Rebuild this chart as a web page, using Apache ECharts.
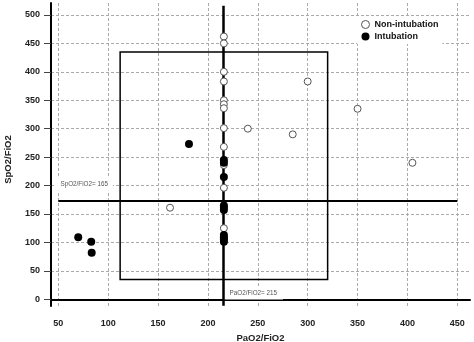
<!DOCTYPE html>
<html>
<head>
<meta charset="utf-8">
<script src="https://cdn.jsdelivr.net/npm/echarts@6/dist/echarts.min.js"></script>
<style>html,body{margin:0;padding:0;background:#fff}#c{width:474px;height:342px}</style>
</head>
<body>
<div id="c"></div>
<script>
var xTicks = [50, 100, 150, 200, 250, 300, 350, 400, 450];
var yTicks = [0, 50, 100, 150, 200, 250, 300, 350, 400, 450, 500];
var nonIntubation = [
  [216, 462], [216, 450], [216, 400], [216, 383], [216, 350], [216, 343], [216, 336],
  [216, 301], [240, 300], [285, 290], [300, 383], [350, 335], [405, 240], [216, 268],
  [216, 236], [216, 196], [162, 161], [216, 125]
];
var intubation = [
  [70, 109], [83, 101], [83.5, 82], [181, 273], [216, 245], [216, 240], [216, 215],
  [216, 165], [216, 161], [216, 157], [216, 113], [216, 109], [216, 105], [216, 101]
];
var boxX = [112, 320];
var boxY = [35, 435];
var paoCut = 215;
var spoLineY = 173;
var spoLineX = [50, 450];
var paoLineY = [-11.5, 516];
var spoLabel = 'SpO2/FiO2= 165';
var paoLabel = 'PaO2/FiO2= 215';

var chart = echarts.init(document.getElementById('c'));
var font = 'Liberation Sans, Arial, sans-serif';
chart.setOption({
  animation: false,
  backgroundColor: '#fff',
  textStyle: {fontFamily: font},
  grid: {left: 51, right: 4, top: 3, bottom: 36, outerBoundsMode: 'none', containLabel: false},
  legend: {
    orient: 'vertical', left: 357, top: 17, padding: [3, 4],
    backgroundColor: '#fff', itemWidth: 8, itemHeight: 8, itemGap: 3,
    textStyle: {fontSize: 9, fontWeight: 'bold', color: '#111', fontFamily: font},
    data: [
      {name: 'Non-intubation', icon: 'circle', itemStyle: {color: '#fff', borderColor: '#555', borderWidth: 1}},
      {name: 'Intubation', icon: 'circle', itemStyle: {color: '#000'}}
    ]
  },
  xAxis: {
    type: 'value', min: 42.7, max: 462.7,
    name: 'PaO2/FiO2', nameLocation: 'middle', nameGap: 25,
    nameTextStyle: {fontSize: 9.5, fontWeight: 'bold', color: '#222'},
    axisLine: {lineStyle: {color: '#000', width: 2}},
    axisTick: {show: true, length: 0, customValues: xTicks},
    axisLabel: {customValues: xTicks, margin: 13, fontSize: 9, fontWeight: 'bold', color: '#222'},
    splitLine: {show: true, lineStyle: {color: '#aaa', type: [3, 2], width: 1}}
  },
  yAxis: {
    type: 'value', min: -11.8, max: 521,
    name: 'SpO2/FiO2', nameLocation: 'middle', nameGap: 38,
    nameTextStyle: {fontSize: 9.5, fontWeight: 'bold', color: '#222', padding: [0, 10, 0, 0]},
    axisLine: {show: true, lineStyle: {color: '#000', width: 2}},
    axisTick: {show: true, length: 7, customValues: yTicks, lineStyle: {color: '#444'}},
    axisLabel: {customValues: yTicks, margin: 11, fontSize: 9, fontWeight: 'bold', color: '#222'},
    splitLine: {show: true, lineStyle: {color: '#aaa', type: [3, 2], width: 1}}
  },
  series: [
    {
      name: 'Non-intubation', type: 'scatter', symbol: 'circle', symbolSize: 7, z: 5,
      itemStyle: {color: '#fff', borderColor: '#555', borderWidth: 1, opacity: 1},
      data: nonIntubation,
      markArea: {
        silent: true,
        itemStyle: {color: 'rgba(0,0,0,0)', borderColor: '#000', borderWidth: 1.5},
        data: [[{coord: [boxX[0], boxY[0]]}, {coord: [boxX[1], boxY[1]]}]]
      },
      markLine: {
        silent: true, symbol: 'none', animation: false,
        label: {show: false},
        data: [
          [{coord: [paoCut, paoLineY[0]], lineStyle: {color: '#000', width: 2.5, type: 'solid'}},
           {coord: [paoCut, paoLineY[1]]}],
          [{coord: [spoLineX[0], spoLineY], lineStyle: {color: '#000', width: 1.8, type: 'solid'}},
           {coord: [spoLineX[1], spoLineY]}]
        ]
      }
    },
    {
      name: 'Intubation', type: 'scatter', symbol: 'circle', symbolSize: 8, z: 6,
      itemStyle: {color: '#000', opacity: 1},
      data: intubation,
      markPoint: {
        silent: true, symbol: 'rect', symbolSize: 0, z: 4,
        label: {show: true, fontSize: 6.3, color: '#555', backgroundColor: '#fff', fontFamily: font},
        data: [
          {coord: [76, 203], value: spoLabel, label: {formatter: spoLabel, padding: [4, 5]}},
          {coord: [245.5, 10], value: paoLabel, label: {formatter: paoLabel, padding: [3, 6]}}
        ]
      }
    }
  ]
});
</script>
</body>
</html>
